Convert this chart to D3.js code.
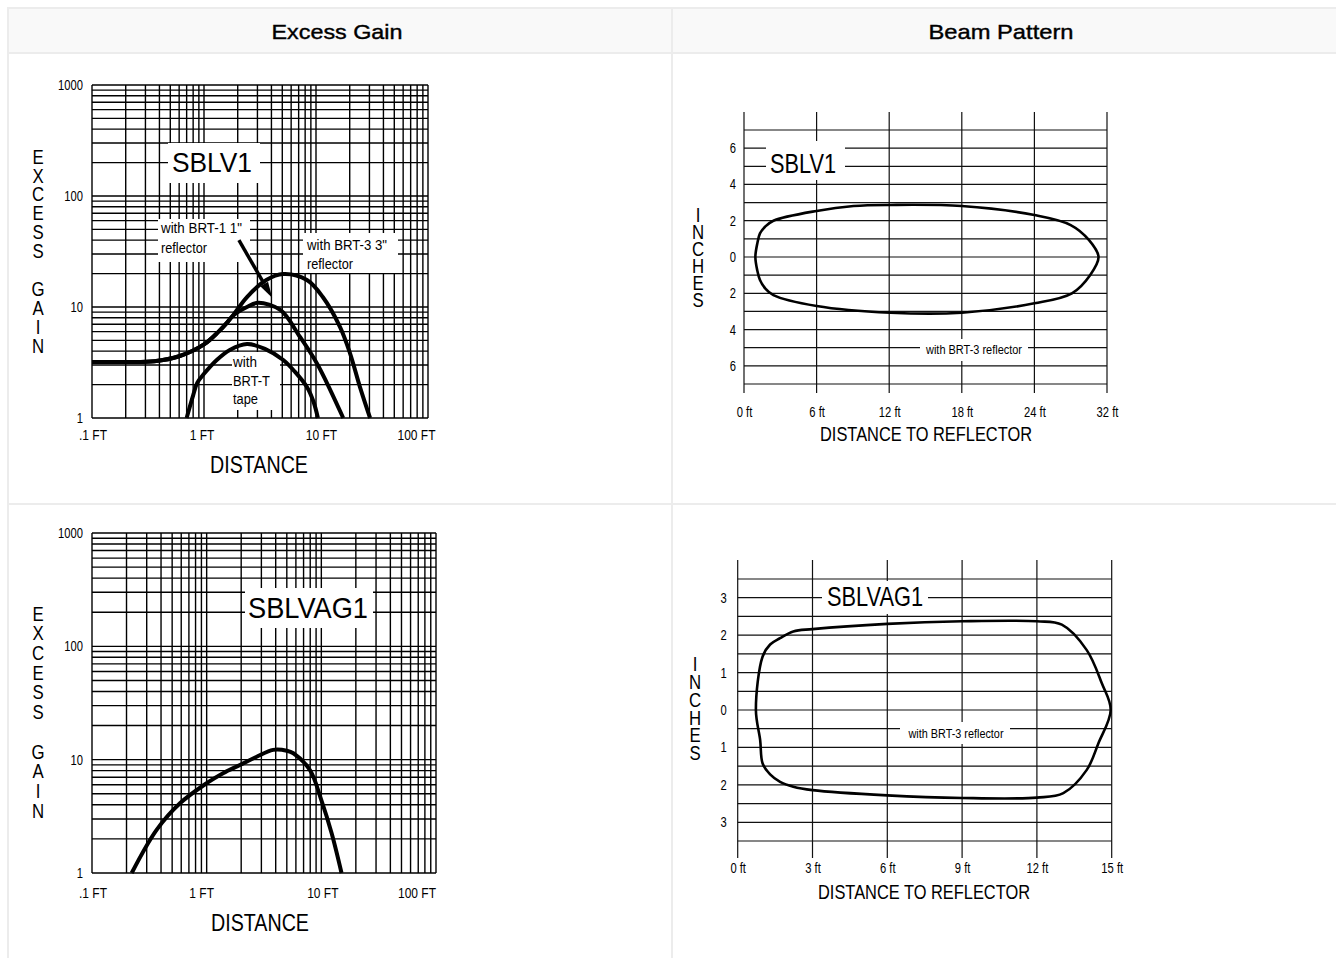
<!DOCTYPE html>
<html><head><meta charset="utf-8">
<script src="https://cdn.jsdelivr.net/npm/d3@7"></script>
<style>html,body{margin:0;padding:0;background:#fff;} svg{display:block;}</style>
</head><body><svg id="c" width="1336" height="958"></svg>
<script>
// ---------------- DATA ----------------
const headers = ["Excess Gain", "Beam Pattern"];

const gainXTicks = [0.1, 1, 10, 100];
const gainXTickLabels = [".1 FT", "1 FT", "10 FT", "100 FT"];
const gainYTicks = [1, 10, 100, 1000];
const gainYTickLabels = ["1", "10", "100", "1000"];
const gainYTitle = "EXCESS GAIN";
const gainXTitle = "DISTANCE";

// SBLV1 excess gain curves (distance ft, gain)
const sblv1Brt3Dist = [0.1, 0.2, 0.36, 0.6, 1.0, 1.35, 1.6, 1.8, 2.42, 3.6, 5.1, 8.3, 11.5, 16.4, 20.1, 24.7, 30.4];
const sblv1Brt3Gain = [3.2, 3.2, 3.25, 3.6, 4.6, 6.0, 7.2, 8.3, 12.3, 17.5, 19.8, 17.5, 12.3, 6.6, 3.85, 1.9, 1.0];
const sblv1Brt1Dist = [0.1, 0.2, 0.36, 0.6, 1.0, 1.35, 1.6, 1.8, 2.42, 3.04, 4.8, 7.2, 10.2, 12.5, 17.5];
const sblv1Brt1Gain = [3.2, 3.2, 3.25, 3.6, 4.6, 6.0, 7.2, 8.3, 10.0, 10.9, 9.4, 5.37, 3.1, 2.07, 1.0];
const sblv1TapeDist = [0.7, 0.8, 0.87, 1.0, 1.3, 1.7, 2.42, 3.5, 5.1, 6.5, 8.3, 9.5, 10.4];
const sblv1TapeGain = [1.0, 1.6, 2.07, 2.5, 3.33, 4.1, 4.64, 4.2, 3.33, 2.6, 1.9, 1.4, 1.0];
const sblv1ArrowDist = [2.05, 4.06];
const sblv1ArrowGain = [40, 12.1];

// SBLVAG1 excess gain curve
const sblvag1Dist = [0.222, 0.366, 0.585, 1.0, 1.39, 1.95, 2.73, 3.8, 5.0, 5.7, 7.95, 10, 12.3, 15];
const sblvag1Gain = [1, 2.4, 4.12, 6.2, 7.6, 8.98, 10.6, 12.2, 12.0, 11.4, 8.1, 4.4, 2.24, 1];

// Beam pattern
const beamYTitle = "INCHES";
const beamXTitle = "DISTANCE TO REFLECTOR";
const beamNote = "with BRT-3 reflector";

const sblv1BeamXTicks = [0, 6, 12, 18, 24, 30];
const sblv1BeamXTickLabels = ["0 ft", "6 ft", "12 ft", "18 ft", "24 ft", "32 ft"];
const sblv1BeamYTicks = [6, 4, 2, 0, -2, -4, -6];
const sblv1BeamYTickLabels = ["6", "4", "2", "0", "2", "4", "6"];
const sblv1BeamGridY = [7, 6, 5, 4, 3, 2, 1, 0, -1, -2, -3, -4, -5, -6, -7];
const sblv1BeamDist = [0.94, 1.10, 1.32, 1.74, 2.43, 6.0, 9.05, 12.1, 18.0, 24.0, 27.0, 28.5, 29.3, 28.6, 27.1, 24.0, 18.0, 12.1, 6.0, 2.43, 1.74, 1.32, 1.10];
const sblv1BeamInch = [0, 0.75, 1.3, 1.67, 2.0, 2.54, 2.81, 2.87, 2.81, 2.31, 1.76, 0.94, 0, -1.0, -2.0, -2.55, -3.07, -3.07, -2.7, -2.1, -1.72, -1.27, -0.75];

const sblvag1BeamXTicks = [0, 3, 6, 9, 12, 15];
const sblvag1BeamXTickLabels = ["0 ft", "3 ft", "6 ft", "9 ft", "12 ft", "15 ft"];
const sblvag1BeamYTicks = [3, 2, 1, 0, -1, -2, -3];
const sblvag1BeamYTickLabels = ["3", "2", "1", "0", "1", "2", "3"];
const sblvag1BeamGridY = [3.5, 3, 2.5, 2, 1.5, 1, 0.5, 0, -0.5, -1, -1.5, -2, -2.5, -3, -3.5];
const sblvag1BeamDist = [0.73, 1.0, 1.3, 1.7, 2.23, 3.0, 6.0, 9.0, 12.0, 13.0, 14.0, 14.6, 14.96, 14.46, 14.0, 13.06, 12.0, 9.0, 6.0, 3.0, 2.23, 1.7, 1.3, 1.0, 0.9];
const sblvag1BeamInch = [0, 1.43, 1.75, 1.92, 2.1, 2.16, 2.3, 2.37, 2.37, 2.28, 1.6, 0.72, 0, -0.9, -1.6, -2.22, -2.34, -2.35, -2.28, -2.14, -2.05, -1.92, -1.72, -1.43, -0.8];

// ---------------- DRAWING ----------------
const svg = d3.select("#c");
const SANS = "'Liberation Sans',Arial,sans-serif";
const SQUEEZE = 0.8;   // narrow (condensed) look

function label(g, x, y, s, size, o = {}) {
  const t = g.append("text").attr("x", x).attr("y", y + 0.36 * size)
    .attr("font-family", SANS).attr("font-size", size)
    .attr("text-anchor", o.anchor || "middle").attr("fill", "#000").text(s);
  if (o.width) t.attr("textLength", o.width).attr("lengthAdjust", "spacingAndGlyphs");
  else t.classed("nar", true);
  return t;
}
function whiteBox(g, x0, y0, x1, y1) {
  g.append("rect").attr("x", x0).attr("y", y0).attr("width", x1 - x0).attr("height", y1 - y0).attr("fill", "#fff");
}
// vertical, upright stacked letters as one text
function stacked(g, x, yFirst, pitch, str, size) {
  const n = str.length;
  g.append("g").attr("transform", `translate(${x},0) scale(${SQUEEZE},1)`)
    .append("text").attr("x", 0).attr("y", yFirst - pitch / 2)
    .attr("font-family", SANS).attr("font-size", size).attr("fill", "#000")
    .style("writing-mode", "vertical-rl").style("text-orientation", "upright")
    .attr("textLength", n * pitch).attr("lengthAdjust", "spacing")
    .text(str);
}
function squeezeAxisText(a, size) {
  a.select(".domain").remove();
  a.selectAll("text").attr("font-family", SANS).attr("font-size", size).attr("fill", "#000").classed("nar", true);
}

// table frame
const frame = svg.append("g");
frame.append("rect").attr("x", 9).attr("y", 9).attr("width", 1340).attr("height", 44).attr("fill", "#f9f9f9");
frame.append("rect").attr("x", 8).attr("y", 8).attr("width", 1345).attr("height", 1000)
  .attr("fill", "none").attr("stroke", "#ececec").attr("stroke-width", 2);
frame.append("line").attr("x1", 8).attr("x2", 1340).attr("y1", 53).attr("y2", 53).attr("stroke", "#ececec").attr("stroke-width", 2);
frame.append("line").attr("x1", 8).attr("x2", 1340).attr("y1", 504).attr("y2", 504).attr("stroke", "#ececec").attr("stroke-width", 2);
frame.append("line").attr("x1", 672).attr("x2", 672).attr("y1", 8).attr("y2", 1000).attr("stroke", "#ececec").attr("stroke-width", 2);
label(frame, 337, 31, headers[0], 21, { width: 131 }).attr("stroke", "#000").attr("stroke-width", 0.4);
label(frame, 1001, 31, headers[1], 21, { width: 145 }).attr("stroke", "#000").attr("stroke-width", 0.4);

// ---- Excess gain chart ----
function gainChart(cfg) {
  const g = svg.append("g");
  const x = d3.scaleLog().domain([0.1, 100]).range(cfg.xr);
  const y = d3.scaleLog().domain([1, 1000]).range(cfg.yr);
  const grid = g.append("g").attr("stroke", "#000").attr("stroke-width", 1.4);
  grid.selectAll("line.v").data(x.ticks()).join("line").attr("class", "v")
    .attr("x1", d => x(d)).attr("x2", d => x(d)).attr("y1", cfg.yr[0]).attr("y2", cfg.yr[1]);
  grid.selectAll("line.h").data(y.ticks()).join("line").attr("class", "h")
    .attr("x1", cfg.xr[0]).attr("x2", cfg.xr[1]).attr("y1", d => y(d)).attr("y2", d => y(d));

  cfg.boxes.forEach(b => whiteBox(g, ...b));

  const clipId = "clip" + cfg.id;
  g.append("clipPath").attr("id", clipId).append("rect")
    .attr("x", cfg.xr[0]).attr("y", cfg.yr[1]).attr("width", cfg.xr[1] - cfg.xr[0]).attr("height", cfg.yr[0] - cfg.yr[1] + 1);
  const line = d3.line().x(d => x(d[0])).y(d => y(d[1])).curve(d3.curveCatmullRom.alpha(0.5));
  cfg.series.forEach(s => {
    g.append("path").attr("d", line(d3.zip(s[0], s[1]))).attr("fill", "none").attr("clip-path", `url(#${clipId})`)
      .attr("stroke", "#000").attr("stroke-width", 4).attr("stroke-linecap", "butt");
  });

  if (cfg.arrow) {
    const [ax0, ax1] = cfg.arrow[0], [ay0, ay1] = cfg.arrow[1];
    const p0 = [x(ax0), y(ay0)], p1 = [x(ax1), y(ay1)];
    const dx = p1[0] - p0[0], dy = p1[1] - p0[1], L = Math.hypot(dx, dy);
    const ux = dx / L, uy = dy / L, hl = 16, hw = 4.5;
    const base = [p1[0] - ux * hl, p1[1] - uy * hl];
    g.append("line").attr("x1", p0[0]).attr("y1", p0[1]).attr("x2", base[0]).attr("y2", base[1])
      .attr("stroke", "#000").attr("stroke-width", 3.5);
    g.append("path").attr("d", d3.line()([[p1[0], p1[1]], [base[0] - uy * hw, base[1] + ux * hw], [base[0] + uy * hw, base[1] - ux * hw]]) + "Z")
      .attr("fill", "#000");
  }

  const ax = g.append("g").attr("transform", `translate(0,${cfg.yr[0]})`)
    .call(d3.axisBottom(x).tickValues(gainXTicks).tickFormat((d, i) => gainXTickLabels[i]).tickSize(0).tickPadding(cfg.xPad));
  ax.selectAll(".tick text").attr("dx", (d, i) => cfg.xLabelShift[i]);
  const ay = g.append("g").attr("transform", `translate(${cfg.xr[0]},0)`)
    .call(d3.axisLeft(y).tickValues(gainYTicks).tickFormat((d, i) => gainYTickLabels[i]).tickSize(0).tickPadding(9));
  squeezeAxisText(ax, 15);
  squeezeAxisText(ay, 14);

  label(g, cfg.xTitle[0], cfg.xTitle[1], gainXTitle, 23, { width: 98 });
  stacked(g, 38, cfg.yTitle[0], cfg.yTitle[1], gainYTitle, 21);
  cfg.texts.forEach(t => label(g, t[0], t[1], t[2], t[3], { anchor: t[4] || "middle", width: t[5] }));
}

gainChart({
  id: 1, xr: [92, 428], yr: [418, 85], xPad: 11, xLabelShift: [0.5, -2.5, 5, -12],
  boxes: [[168, 143, 260, 183], [158, 219, 250, 262], [303, 233, 398, 273], [232, 352, 280, 410]],
  series: [[sblv1Brt3Dist, sblv1Brt3Gain], [sblv1Brt1Dist, sblv1Brt1Gain], [sblv1TapeDist, sblv1TapeGain]],
  arrow: [sblv1ArrowDist, sblv1ArrowGain],
  xTitle: [259, 465], yTitle: [154.5, 19.3],
  texts: [[212, 162, "SBLV1", 28, "middle", 80],
          [161, 228, 'with BRT-1 1"', 14, "start", 81], [161, 248, "reflector", 14, "start", 46],
          [307, 245, 'with BRT-3 3"', 14, "start", 80], [307, 264, "reflector", 14, "start", 46],
          [233, 362, "with", 14, "start", 24], [233, 381, "BRT-T", 14, "start", 37], [233, 399, "tape", 14, "start", 25]]
});

gainChart({
  id: 2, xr: [92, 436], yr: [873, 533], xPad: 14, xLabelShift: [0.5, -5.5, 1, -19.5],
  boxes: [[245, 588, 373, 628]],
  series: [[sblvag1Dist, sblvag1Gain]],
  arrow: null,
  xTitle: [260, 923], yTitle: [612, 20],
  texts: [[308, 607, "SBLVAG1", 30, "middle", 120]]
});

// ---- Beam pattern chart ----
function beamChart(cfg) {
  const g = svg.append("g");
  const x = d3.scaleLinear().domain(cfg.xd).range(cfg.xr);
  const y = d3.scaleLinear().domain(cfg.yd).range(cfg.yr);
  const grid = g.append("g").attr("stroke", "#111").attr("stroke-width", 1.2);
  grid.selectAll("line.h").data(cfg.gridY).join("line").attr("class", "h")
    .attr("x1", cfg.xr[0]).attr("x2", cfg.xr[1]).attr("y1", d => y(d)).attr("y2", d => y(d));
  grid.selectAll("line.v").data(cfg.xTicks).join("line").attr("class", "v")
    .attr("x1", d => x(d)).attr("x2", d => x(d)).attr("y1", cfg.vTop).attr("y2", cfg.vBottom);

  cfg.boxes.forEach(b => whiteBox(g, ...b));

  const line = d3.line().x(d => x(d[0])).y(d => y(d[1])).curve(d3.curveCatmullRomClosed.alpha(0.5));
  g.append("path").attr("d", line(d3.zip(cfg.dist, cfg.inch))).attr("fill", "none")
    .attr("stroke", "#000").attr("stroke-width", 2.6).attr("stroke-linejoin", "round");

  const ax = g.append("g").attr("transform", `translate(0,${cfg.yr[0]})`)
    .call(d3.axisBottom(x).tickValues(cfg.xTicks).tickFormat((d, i) => cfg.xLabels[i]).tickSize(0).tickPadding(cfg.xPad));
  const ay = g.append("g").attr("transform", `translate(${cfg.xr[0]},0)`)
    .call(d3.axisLeft(y).tickValues(cfg.yTicks).tickFormat((d, i) => cfg.yLabels[i]).tickSize(0).tickPadding(cfg.yPad));
  squeezeAxisText(ax, 14);
  squeezeAxisText(ay, 14);
  label(g, cfg.xTitle[0], cfg.xTitle[1], beamXTitle, 21, { width: 212 });
  stacked(g, cfg.yTitle[0], cfg.yTitle[1], cfg.yTitle[2], beamYTitle, 21);
  cfg.texts.forEach(t => label(g, t[0], t[1], t[2], t[3], { width: t[4] }));
}

beamChart({
  xd: [0, 30], xr: [744, 1107], yd: [-7, 7], yr: [384, 130], vTop: 112, vBottom: 393,
  gridY: sblv1BeamGridY, xTicks: sblv1BeamXTicks, xLabels: sblv1BeamXTickLabels,
  yTicks: sblv1BeamYTicks, yLabels: sblv1BeamYTickLabels, xPad: 23, yPad: 8,
  dist: sblv1BeamDist, inch: sblv1BeamInch,
  boxes: [[766, 141, 845, 180], [920, 339, 1028, 361]],
  xTitle: [926, 433], yTitle: [698, 212, 18.1],
  texts: [[803, 163, "SBLV1", 27, 66], [974, 350, beamNote, 12, 96]]
});

beamChart({
  xd: [0, 15], xr: [737.7, 1111.7], yd: [-3.5, 3.5], yr: [841, 579], vTop: 560, vBottom: 858,
  gridY: sblvag1BeamGridY, xTicks: sblvag1BeamXTicks, xLabels: sblvag1BeamXTickLabels,
  yTicks: sblvag1BeamYTicks, yLabels: sblvag1BeamYTickLabels, xPad: 22, yPad: 11,
  dist: sblvag1BeamDist, inch: sblvag1BeamInch,
  boxes: [[822, 581, 928, 614], [900, 722, 1010, 744]],
  xTitle: [924, 891], yTitle: [695, 662, 18.6],
  texts: [[875, 596, "SBLVAG1", 27, 96], [956, 734, beamNote, 12, 95]]
});

// condensed look for remaining texts
svg.selectAll("text.nar").each(function () {
  const len = this.getComputedTextLength();
  d3.select(this).attr("textLength", len * SQUEEZE).attr("lengthAdjust", "spacingAndGlyphs");
});
</script>
</body></html>
